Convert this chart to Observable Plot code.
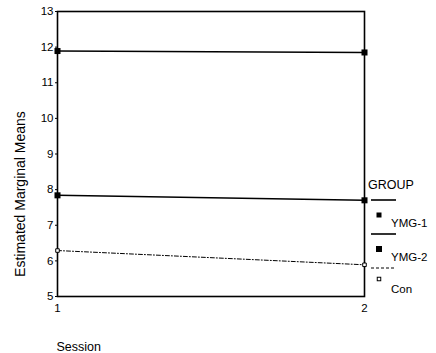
<!DOCTYPE html>
<html>
<head>
<meta charset="utf-8">
<script src="https://cdn.jsdelivr.net/npm/d3@7"></script>
<script src="https://cdn.jsdelivr.net/npm/@observablehq/plot@0.6"></script>
<style>
  html, body { margin: 0; padding: 0; background: #fff; }
  #wrap { position: relative; width: 436px; height: 353px; font-family: "Liberation Sans", Arial, sans-serif; }
  #legend { position: absolute; left: 366px; top: 176px; }
</style>
</head>
<body>
<div id="wrap"></div>
<script>
const sessions = [1, 2];
const groups = ["YMG-1", "YMG-2", "Con"];
const ymg1 = [11.89, 11.85];
const ymg2 = [7.84, 7.70];
const con = [6.29, 5.89];
const yTicks = [5, 6, 7, 8, 9, 10, 11, 12, 13];
const xTicks = [1, 2];
const yLabel = "Estimated Marginal Means";
const xLabel = "Session";
const legendTitle = "GROUP";

const seriesVals = [ymg1, ymg2, con];
const rows = groups.flatMap((g, i) => sessions.map((s, j) => ({group: g, session: s, value: seriesVals[i][j]})));
const solid = rows.filter(d => d.group !== "Con");
const dashed = rows.filter(d => d.group === "Con");

const font = "Liberation Sans, Arial, sans-serif";
const chart = Plot.plot({
  width: 436,
  height: 353,
  marginLeft: 57,
  marginRight: 72,
  marginTop: 11,
  marginBottom: 57,
  style: {fontFamily: font, fontSize: "11px", color: "#000", background: "#fff"},
  x: {domain: [1, 2]},
  y: {domain: [5, 13]},
  marks: [
    Plot.frame({stroke: "#000", strokeWidth: 1.6}),
    Plot.axisY({ticks: yTicks, tickSize: 2, tickPadding: 2, label: null, tickFormat: d => String(d), fontSize: 11.5}),
    Plot.axisX({ticks: xTicks, tickSize: 0, tickPadding: 7, label: null, tickFormat: d => String(d), fontSize: 11.5}),
    Plot.text([yLabel], {frameAnchor: "left", textAnchor: "middle", dx: -37, dy: 40, rotate: -90, fontSize: 14, text: d => d, style: "letter-spacing:0.4px"}),
    Plot.text([xLabel], {frameAnchor: "bottom-left", dy: 54, dx: -1, textAnchor: "start", fontSize: 12.5, text: d => d}),
    Plot.line(solid, {x: "session", y: "value", z: "group", stroke: "#000", strokeWidth: 1.6}),
    Plot.line(dashed, {x: "session", y: "value", stroke: "#000", strokeWidth: 1, strokeDasharray: "4,2,1,2"}),
    Plot.dot(solid, {x: "session", y: "value", symbol: "square", r: 3.4, fill: "#000"}),
    Plot.dot(dashed, {x: "session", y: "value", symbol: "square", r: 2, fill: "#fff", stroke: "#000", strokeWidth: 1})
  ]
});
const wrap = document.getElementById("wrap");
wrap.appendChild(chart);

// Legend
const leg = document.createElementNS("http://www.w3.org/2000/svg", "svg");
leg.setAttribute("width", 70);
leg.setAttribute("height", 125);
leg.id = "legend";
const styles = [
  {dash: null, w: 1.6, marker: "filled", ms: 5},
  {dash: null, w: 1.6, marker: "filled", ms: 6},
  {dash: "3,2", w: 1, marker: "open", ms: 3.5}
];
let html = `<text x="2" y="13" font-family="${font}" font-size="12.5">${legendTitle}</text>`;
groups.forEach((g, i) => {
  const y0 = 24 + i * 34;
  const s = styles[i];
  html += `<line x1="5" x2="30" y1="${y0}" y2="${y0}" stroke="#000" stroke-width="${s.w}" ${s.dash ? `stroke-dasharray="${s.dash}"` : ""}/>`;
  const cy = y0 + 15 - (i === 2 ? 4 : 0);
  if (s.marker === "filled") {
    html += `<rect x="${13 - s.ms / 2}" y="${cy - s.ms / 2}" width="${s.ms}" height="${s.ms}" fill="#000"/>`;
  } else {
    html += `<rect x="${13 - s.ms / 2}" y="${cy - s.ms / 2}" width="${s.ms}" height="${s.ms}" fill="#fff" stroke="#000" stroke-width="1"/>`;
  }
  html += `<text x="25" y="${y0 + 27 - (i === 2 ? 2 : 0)}" font-family="${font}" font-size="11.5">${g}</text>`;
});
leg.innerHTML = html;
wrap.appendChild(leg);
</script>
</body>
</html>
